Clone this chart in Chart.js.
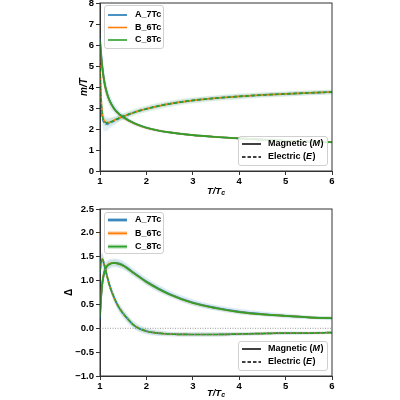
<!DOCTYPE html>
<html>
<head>
<meta charset="utf-8">
<script src="https://cdn.jsdelivr.net/npm/chart.js@4.4.0/dist/chart.umd.min.js"></script>
<style>
  html, body { margin: 0; padding: 0; background: #fff; }
  canvas { display: block; }
</style>
</head>
<body>
<canvas id="top" width="400" height="200"></canvas>
<canvas id="bottom" width="400" height="200"></canvas>
<script>
// temperature grid, T/Tc
const T = [1, 1.02, 1.05, 1.1, 1.15, 1.2, 1.3, 1.4, 1.5, 1.75, 2, 2.25, 2.5, 3, 3.5, 4, 4.5, 5, 5.5, 6];

const seriesNames = ['A_7Tc', 'B_6Tc', 'C_8Tc'];
const xTicks = [1, 2, 3, 4, 5, 6];
const yTicksTop = [0, 1, 2, 3, 4, 5, 6, 7, 8];
const yTicksBottom = [-1, -0.5, 0, 0.5, 1, 1.5, 2, 2.5];

// m/T, magnetic
const magA = [6.3, 5.7, 5.0, 4.2, 3.72, 3.4, 2.99, 2.74, 2.57, 2.26, 2.06, 1.93, 1.84, 1.71, 1.62, 1.55, 1.49, 1.44, 1.40, 1.37];
const magB = [6.0, 5.5, 4.85, 4.12, 3.68, 3.37, 2.97, 2.72, 2.55, 2.25, 2.05, 1.93, 1.84, 1.71, 1.62, 1.55, 1.49, 1.44, 1.40, 1.37];
const magC = [6.2, 5.6, 4.9, 4.15, 3.7, 3.38, 2.98, 2.73, 2.56, 2.26, 2.06, 1.93, 1.84, 1.71, 1.62, 1.55, 1.49, 1.44, 1.40, 1.37];
// m/T, electric
const eleA = [4.7, 3.4, 2.6, 2.28, 2.24, 2.28, 2.38, 2.49, 2.59, 2.8, 2.96, 3.09, 3.2, 3.36, 3.47, 3.55, 3.62, 3.67, 3.72, 3.76];
const eleB = [5.2, 3.7, 2.75, 2.36, 2.3, 2.32, 2.41, 2.51, 2.6, 2.8, 2.96, 3.09, 3.2, 3.36, 3.47, 3.55, 3.62, 3.67, 3.72, 3.76];
const eleC = [4.9, 3.6, 2.7, 2.35, 2.3, 2.32, 2.41, 2.51, 2.6, 2.8, 2.96, 3.09, 3.2, 3.36, 3.47, 3.55, 3.62, 3.67, 3.72, 3.76];
// Delta, magnetic
const dMagA = [0.2, 0.58, 0.93, 1.19, 1.3, 1.34, 1.37, 1.36, 1.32, 1.15, 0.98, 0.84, 0.72, 0.54, 0.43, 0.35, 0.3, 0.26, 0.23, 0.21];
const dMagB = [0.3, 0.62, 0.97, 1.21, 1.31, 1.35, 1.37, 1.35, 1.31, 1.14, 0.97, 0.83, 0.71, 0.53, 0.42, 0.34, 0.29, 0.26, 0.23, 0.21];
const dMagC = [0.25, 0.6, 0.95, 1.2, 1.3, 1.34, 1.37, 1.35, 1.31, 1.14, 0.97, 0.83, 0.71, 0.53, 0.42, 0.34, 0.29, 0.26, 0.23, 0.21];
// Delta, electric
const dEleA = [1.15, 1.36, 1.44, 1.3, 1.1, 0.92, 0.65, 0.45, 0.31, 0.05, -0.06, -0.1, -0.12, -0.13, -0.13, -0.12, -0.11, -0.1, -0.1, -0.09];
const dEleB = [1.25, 1.4, 1.45, 1.3, 1.1, 0.92, 0.65, 0.45, 0.31, 0.05, -0.06, -0.1, -0.12, -0.13, -0.13, -0.12, -0.11, -0.1, -0.1, -0.09];
const dEleC = [1.2, 1.38, 1.45, 1.3, 1.1, 0.92, 0.65, 0.45, 0.31, 0.05, -0.06, -0.1, -0.12, -0.13, -0.13, -0.12, -0.11, -0.1, -0.1, -0.09];

// error bands (half widths) for A and C
const magErrA = [0.6, 0.55, 0.5, 0.42, 0.36, 0.3, 0.22, 0.17, 0.14, 0.1, 0.08, 0.07, 0.06, 0.05, 0.05, 0.05, 0.05, 0.05, 0.05, 0.05];
const magErrC = [0.3, 0.28, 0.25, 0.2, 0.16, 0.13, 0.1, 0.08, 0.07, 0.06, 0.06, 0.06, 0.06, 0.06, 0.06, 0.06, 0.06, 0.06, 0.06, 0.06];
const eleErrA = [0.5, 0.45, 0.4, 0.38, 0.33, 0.27, 0.2, 0.15, 0.12, 0.1, 0.1, 0.1, 0.1, 0.1, 0.1, 0.1, 0.1, 0.1, 0.1, 0.1];
const eleErrC = [0.3, 0.25, 0.22, 0.2, 0.18, 0.17, 0.16, 0.16, 0.16, 0.16, 0.16, 0.16, 0.15, 0.15, 0.14, 0.14, 0.13, 0.13, 0.12, 0.12];
const dMagErrA = [0.3, 0.25, 0.2, 0.15, 0.12, 0.1, 0.09, 0.09, 0.09, 0.08, 0.08, 0.08, 0.07, 0.07, 0.06, 0.06, 0.05, 0.05, 0.04, 0.04];
const dMagErrC = [0.2, 0.15, 0.12, 0.1, 0.08, 0.07, 0.06, 0.06, 0.06, 0.05, 0.05, 0.05, 0.04, 0.04, 0.04, 0.03, 0.03, 0.03, 0.03, 0.03];
const dEleErrA = [0.3, 0.2, 0.15, 0.12, 0.1, 0.1, 0.1, 0.1, 0.1, 0.08, 0.07, 0.06, 0.05, 0.05, 0.05, 0.04, 0.04, 0.04, 0.03, 0.03];
const dEleErrC = [0.2, 0.15, 0.1, 0.08, 0.07, 0.07, 0.07, 0.07, 0.07, 0.06, 0.05, 0.05, 0.04, 0.04, 0.04, 0.03, 0.03, 0.03, 0.03, 0.03];

const BLUE = '#1f77b4', ORANGE = '#ff7f0e', GREEN = '#2ca02c';
const FONT = '"Liberation Sans", Arial, sans-serif';
const AXIS = '#333';
const INK = '#000';

function pts(ys) { return T.map((t, i) => ({ x: t, y: ys[i] })); }

function line(ys, color, dashed, order, offset) {
  return {
    data: pts(ys), borderColor: color, borderWidth: 1.7, pointRadius: 0,
    borderDash: dashed ? [4, 2] : [], borderDashOffset: offset || 0,
    fill: false, order: order, cubicInterpolationMode: 'monotone'
  };
}

function band(ys, err, color) {
  const up = T.map((t, i) => ({ x: t, y: ys[i] + err[i] }));
  const lo = T.map((t, i) => ({ x: t, y: ys[i] - err[i] }));
  return [
    { data: up, borderWidth: 0, pointRadius: 0, fill: '+1', backgroundColor: color, order: 100, cubicInterpolationMode: 'monotone' },
    { data: lo, borderWidth: 0, pointRadius: 0, fill: false, order: 100, cubicInterpolationMode: 'monotone' }
  ];
}

const frame = {
  id: 'frame',
  afterDraw(chart) {
    const a = chart.chartArea, ctx = chart.ctx;
    ctx.save();
    ctx.strokeStyle = AXIS;
    ctx.lineWidth = 1;
    ctx.strokeRect(a.left, a.top, a.right - a.left, a.bottom - a.top);
    ctx.restore();
  }
};

function xTitle(dy) {
  return {
    id: 'xtitle',
    afterDraw(chart) {
      const ctx = chart.ctx, a = chart.chartArea;
      ctx.save();
      ctx.fillStyle = INK;
      ctx.textBaseline = 'middle';
      ctx.font = 'italic bold 9.5px ' + FONT;
      const w1 = ctx.measureText('T/T').width;
      ctx.font = 'italic bold 7px ' + FONT;
      const w2 = ctx.measureText('c').width;
      const x0 = (a.left + a.right) / 2 - (w1 + w2) / 2;
      const y = chart.height - dy;
      ctx.font = 'italic bold 9.5px ' + FONT;
      ctx.fillText('T/T', x0, y);
      ctx.font = 'italic bold 7px ' + FONT;
      ctx.fillText('c', x0 + w1, y + 2.5);
      ctx.restore();
    }
  };
}

function legendBox(ctx, x, y, w, h) {
  ctx.save();
  ctx.fillStyle = 'rgba(255,255,255,0.85)';
  ctx.strokeStyle = '#d0d0d0';
  ctx.lineWidth = 1;
  ctx.beginPath();
  ctx.roundRect(x + 0.5, y + 0.5, w, h, 2.5);
  ctx.fill();
  ctx.stroke();
  ctx.restore();
}

function legends(l1, l2, withBand) {
  return {
    id: 'legends',
    afterDraw(chart) {
      const ctx = chart.ctx;
      const colors = [BLUE, ORANGE, GREEN];
      legendBox(ctx, l1.x, l1.y, 59, l1.h);
      ctx.save();
      ctx.textBaseline = 'middle';
      seriesNames.forEach((name, i) => {
        const yy = l1.y + l1.first + i * l1.step;
        if (withBand) {
          ctx.strokeStyle = colors[i];
          ctx.globalAlpha = 0.35;
          ctx.lineWidth = 4;
          ctx.beginPath(); ctx.moveTo(l1.x + 4, yy); ctx.lineTo(l1.x + 23, yy); ctx.stroke();
          ctx.globalAlpha = 1;
        }
        ctx.strokeStyle = colors[i];
        ctx.lineWidth = 1.6;
        ctx.beginPath(); ctx.moveTo(l1.x + 4, yy); ctx.lineTo(l1.x + 23, yy); ctx.stroke();
        ctx.fillStyle = INK;
        ctx.font = 'bold 9px ' + FONT;
        ctx.fillText(name, l1.x + 31, yy);
      });
      ctx.restore();

      legendBox(ctx, l2.x, l2.y, 89, 29);
      ctx.save();
      ctx.textBaseline = 'middle';
      const rows = [['Magnetic (', 'M', ')', []], ['Electric (', 'E', ')', [3.5, 2]]];
      rows.forEach((r, i) => {
        const yy = l2.y + 8 + i * 13;
        ctx.strokeStyle = '#000';
        ctx.lineWidth = 1.5;
        ctx.setLineDash(r[3]);
        ctx.beginPath(); ctx.moveTo(l2.x + 4, yy); ctx.lineTo(l2.x + 23, yy); ctx.stroke();
        ctx.setLineDash([]);
        ctx.fillStyle = INK;
        let x = l2.x + 30;
        ctx.font = 'bold 9px ' + FONT;
        ctx.fillText(r[0], x, yy); x += ctx.measureText(r[0]).width;
        ctx.font = 'italic bold 9px ' + FONT;
        ctx.fillText(r[1], x, yy); x += ctx.measureText(r[1]).width + 0.5;
        ctx.font = 'bold 9px ' + FONT;
        ctx.fillText(r[2], x, yy);
      });
      ctx.restore();
    }
  };
}

const zeroLine = {
  id: 'zeroLine',
  beforeDatasetsDraw(chart) {
    const ctx = chart.ctx, a = chart.chartArea;
    const y = chart.scales.y.getPixelForValue(0);
    ctx.save();
    ctx.strokeStyle = '#999';
    ctx.lineWidth = 1;
    ctx.setLineDash([1, 1.5]);
    ctx.beginPath(); ctx.moveTo(a.left, y); ctx.lineTo(a.right, y); ctx.stroke();
    ctx.restore();
  }
};

function scalesFor(yMin, yMax, yTicks, yTitle, yTitleStyle, yWidth, xHeight, fmt) {
  const tickFont = { family: FONT, size: 9.5, weight: 'bold' };
  return {
    x: {
      type: 'linear', min: 1, max: 6,
      afterBuildTicks: s => { s.ticks = xTicks.map(v => ({ value: v })); },
      ticks: { font: tickFont, color: INK, padding: 1 },
      grid: { drawOnChartArea: false, tickLength: 4, tickColor: AXIS },
      border: { color: AXIS },
      afterFit: s => { s.height = xHeight; s.paddingLeft = 0; s.paddingRight = 0; }
    },
    y: {
      type: 'linear', min: yMin, max: yMax,
      afterBuildTicks: s => { s.ticks = yTicks.map(v => ({ value: v })); },
      ticks: { font: tickFont, color: INK, padding: 2, callback: fmt },
      grid: { drawOnChartArea: false, tickLength: 4, tickColor: AXIS },
      border: { color: AXIS },
      title: { display: true, text: yTitle, color: INK, padding: 2,
               font: { family: FONT, size: 10, weight: 'bold', style: yTitleStyle } },
      afterFit: s => { s.width = yWidth; s.paddingTop = 0; s.paddingBottom = 0; }
    }
  };
}

new Chart(document.getElementById('top'), {
  type: 'line',
  data: {
    datasets: [
      ...band(magA, magErrA, 'rgba(31,119,180,0.15)'),
      ...band(magC, magErrC, 'rgba(44,160,44,0.12)'),
      ...band(eleA, eleErrA, 'rgba(31,119,180,0.12)'),
      ...band(eleC, eleErrC, 'rgba(44,160,44,0.12)'),
      line(magA, BLUE, false, 6),
      line(magB, ORANGE, false, 5),
      line(magC, GREEN, false, 4),
      line(eleA, BLUE, true, 3, 1.5),
      line(eleB, ORANGE, true, 2, 3),
      line(eleC, GREEN, true, 1, 0)
    ]
  },
  options: {
    responsive: false, animation: false, events: [],
    layout: { padding: { left: 76, right: 68, top: 3, bottom: 0 } },
    plugins: { legend: { display: false }, tooltip: { enabled: false } },
    scales: scalesFor(0, 8, yTicksTop, 'm/T', 'italic', 24, 29, v => String(v))
  },
  plugins: [frame, xTitle(9), legends({ x: 104, y: 5, h: 43, first: 10, step: 12.5 }, { x: 238, y: 136 }, false)]
});

new Chart(document.getElementById('bottom'), {
  type: 'line',
  data: {
    datasets: [
      ...band(dMagA, dMagErrA, 'rgba(31,119,180,0.15)'),
      ...band(dMagC, dMagErrC, 'rgba(44,160,44,0.12)'),
      ...band(dEleA, dEleErrA, 'rgba(31,119,180,0.12)'),
      ...band(dEleC, dEleErrC, 'rgba(44,160,44,0.12)'),
      line(dMagA, BLUE, false, 6),
      line(dMagB, ORANGE, false, 5),
      line(dMagC, GREEN, false, 4),
      line(dEleA, BLUE, true, 3, 1.5),
      line(dEleB, ORANGE, true, 2, 3),
      line(dEleC, GREEN, true, 1, 0)
    ]
  },
  options: {
    responsive: false, animation: false, events: [],
    layout: { padding: { left: 61, right: 68, top: 9, bottom: 0 } },
    plugins: { legend: { display: false }, tooltip: { enabled: false } },
    scales: scalesFor(-1, 2.5, yTicksBottom, 'Δ', 'normal', 39, 24,
                      v => v.toFixed(1).replace('-', '\u2212'))
  },
  plugins: [zeroLine, frame, xTitle(7), legends({ x: 104, y: 12, h: 41, first: 8, step: 13.3 }, { x: 238, y: 141 }, true)]
});
</script>
</body>
</html>
